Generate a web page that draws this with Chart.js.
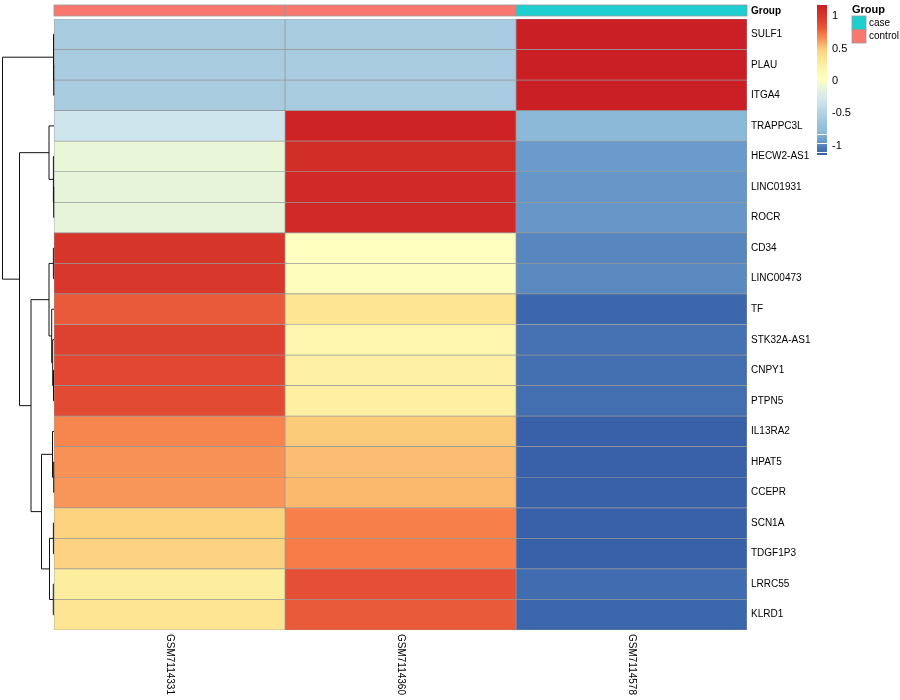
<!DOCTYPE html>
<html>
<head>
<meta charset="utf-8">
<script src="https://cdn.jsdelivr.net/npm/chart.js@4.4.0/dist/chart.umd.min.js"></script>
<style>
  body { margin: 0; background: #fff; }
  #wrap { width: 900px; height: 700px; }
</style>
</head>
<body>
<div id="wrap"><canvas id="heatmap" width="900" height="700"></canvas></div>
<script>
const genes = ['SULF1', 'PLAU', 'ITGA4', 'TRAPPC3L', 'HECW2-AS1', 'LINC01931', 'ROCR',
  'CD34', 'LINC00473', 'TF', 'STK32A-AS1', 'CNPY1', 'PTPN5', 'IL13RA2', 'HPAT5',
  'CCEPR', 'SCN1A', 'TDGF1P3', 'LRRC55', 'KLRD1'];
const samples = ['GSM7114331', 'GSM7114360', 'GSM7114578'];
const groups = ['control', 'control', 'case'];

// row z-scores, one array per sample
const gsm7114331 = [-0.58, -0.58, -0.58, -0.32, -0.11, -0.13, -0.13, 1.00, 0.98, 0.80,
  0.92, 0.89, 0.87, 0.67, 0.63, 0.62, 0.46, 0.45, 0.25, 0.32];
const gsm7114360 = [-0.58, -0.58, -0.58, 1.12, 1.05, 1.08, 1.08, 0.00, 0.03, 0.32,
  0.15, 0.20, 0.22, 0.48, 0.52, 0.53, 0.69, 0.70, 0.85, 0.80];
const gsm7114578 = [1.15, 1.15, 1.15, -0.80, -0.94, -0.95, -0.95, -1.00, -0.99, -1.12,
  -1.07, -1.09, -1.09, -1.15, -1.15, -1.15, -1.15, -1.15, -1.10, -1.12];
const zValues = [gsm7114331, gsm7114360, gsm7114578];

// row clustering: [left, right, height]; negative = leaf -(row+1), positive = earlier merge (1-based)
const rowMerges = [
  [-2, -3, 0.3], [-1, 1, 0.5],
  [-6, -7, 0.3], [-5, 3, 0.6], [-4, 4, 5],
  [-8, -9, 0.6], [-12, -13, 0.5], [-11, 7, 1.3], [-10, 8, 2.3], [6, 9, 5],
  [-15, -16, 0.3], [-14, 11, 1.5], [-17, -18, 0.6], [-19, -20, 0.7], [13, 14, 4.5], [12, 15, 12.5],
  [10, 16, 23], [5, 17, 34.5], [2, 18, 51.5]
];

const legendTicks = [1, 0.5, 0, -0.5, -1];
const groupColors = { case: '#1FCFD0', control: '#F8776F' };

const colorStops = [
  [-1.155, '#3760A8'], [-1.05, '#4A76B5'], [-0.97, '#6090C4'], [-0.94, '#6B9BCA'],
  [-0.8, '#8DB9D9'], [-0.577, '#A8CBE0'], [-0.32, '#CFE5EE'], [-0.11, '#EAF6D8'],
  [0, '#FFFFBF'], [0.15, '#FEF6AE'], [0.3, '#FDE896'], [0.46, '#FCD27F'],
  [0.52, '#FBBD71'], [0.63, '#F89155'], [0.7, '#F77C48'], [0.8, '#E85A3A'],
  [0.9, '#DF4430'], [1.0, '#D6352A'], [1.155, '#CA1E24']
];

const hexRgb = h => [1, 3, 5].map(i => parseInt(h.slice(i, i + 2), 16));

const colorFor = v => {
  if (v <= colorStops[0][0]) return colorStops[0][1];
  for (let i = 1; i < colorStops.length; i++) {
    const [v1, c1] = colorStops[i];
    if (v <= v1) {
      const [v0, c0] = colorStops[i - 1];
      const t = (v - v0) / (v1 - v0);
      const a = hexRgb(c0), b = hexRgb(c1);
      const rgb = a.map((x, k) => Math.round(x + (b[k] - x) * t));
      return `rgb(${rgb[0]},${rgb[1]},${rgb[2]})`;
    }
  }
  return colorStops[colorStops.length - 1][1];
};

const FONT = '"Liberation Sans", Arial, sans-serif';

const extras = {
  id: 'extras',
  afterDraw(chart) {
    const { ctx, chartArea } = chart;
    const xs = chart.scales.x, ys = chart.scales.y;
    ctx.save();

    // group annotation bar
    samples.forEach((s, c) => {
      const x0 = xs.getPixelForValue(c), x1 = xs.getPixelForValue(c + 1);
      ctx.fillStyle = groupColors[groups[c]];
      ctx.fillRect(x0, 5, x1 - x0, 11);
      ctx.strokeStyle = '#999';
      ctx.lineWidth = 0.8;
      ctx.strokeRect(x0, 5, x1 - x0, 11);
    });
    ctx.fillStyle = '#000';
    ctx.font = 'bold 10px ' + FONT;
    ctx.textBaseline = 'middle';
    ctx.textAlign = 'left';
    ctx.fillText('Group', chartArea.right + 4, 11);

    // column labels
    ctx.font = '10px ' + FONT;
    samples.forEach((s, c) => {
      ctx.save();
      ctx.translate(xs.getPixelForValue(c + 0.5), chartArea.bottom + 4);
      ctx.rotate(Math.PI / 2);
      ctx.textAlign = 'left';
      ctx.textBaseline = 'middle';
      ctx.fillText(s, 0, 0);
      ctx.restore();
    });

    // row dendrogram
    const maxH = Math.max(...rowMerges.map(m => m[2]));
    const hx = h => chartArea.left - h / maxH * (chartArea.left - 2.5);
    const nodes = [];
    const pos = id => id < 0
      ? { x: chartArea.left, y: ys.getPixelForValue(-id - 1) }
      : nodes[id - 1];
    ctx.strokeStyle = '#111';
    ctx.lineWidth = 1;
    rowMerges.forEach(([a, b, h]) => {
      const pa = pos(a), pb = pos(b);
      const mx = hx(h);
      ctx.beginPath();
      ctx.moveTo(pa.x, pa.y); ctx.lineTo(mx, pa.y);
      ctx.lineTo(mx, pb.y); ctx.lineTo(pb.x, pb.y);
      ctx.stroke();
      nodes.push({ x: mx, y: (pa.y + pb.y) / 2 });
    });

    // colour key
    const barX = 817, barW = 10, barTop = 5, barBot = 155;
    const vTop = 1.155, vBot = -1.155;
    const vy = v => barTop + (vTop - v) / (vTop - vBot) * (barBot - barTop);
    for (let py = barTop; py < barBot; py++) {
      const v = vTop - (py + 0.5 - barTop) / (barBot - barTop) * (vTop - vBot);
      ctx.fillStyle = colorFor(v);
      ctx.fillRect(barX, py, barW, 1);
    }
    ctx.fillStyle = '#fff';
    ctx.fillRect(barX, 134, barW, 1);
    ctx.fillRect(barX, 143, barW, 1);
    ctx.fillRect(barX, 152, barW, 1);
    ctx.fillStyle = '#000';
    ctx.font = '11px ' + FONT;
    ctx.textAlign = 'left';
    ctx.textBaseline = 'middle';
    legendTicks.forEach(t => ctx.fillText(String(t), barX + 15, vy(t) + 1));

    // group legend
    ctx.font = 'bold 11px ' + FONT;
    ctx.fillText('Group', 852, 10);
    ctx.font = '10px ' + FONT;
    ['case', 'control'].forEach((g, i) => {
      const by = 16 + i * 13.5;
      ctx.fillStyle = groupColors[g];
      ctx.fillRect(852, by, 14, 13.5);
      ctx.strokeStyle = '#999';
      ctx.lineWidth = 0.8;
      ctx.strokeRect(852, by, 14, 13.5);
      ctx.fillStyle = '#000';
      ctx.fillText(g, 869, by + 7);
    });

    ctx.restore();
  }
};

new Chart(document.getElementById('heatmap'), {
  type: 'bar',
  data: {
    labels: genes,
    datasets: samples.map((s, c) => ({
      label: s,
      data: genes.map(() => 1),
      backgroundColor: zValues[c].map(colorFor),
      borderColor: '#999999',
      borderWidth: 0.7,
      borderSkipped: false,
      barPercentage: 1,
      categoryPercentage: 1
    }))
  },
  options: {
    indexAxis: 'y',
    responsive: false,
    animation: false,
    layout: { padding: { left: 54, top: 19, bottom: 70, right: 0 } },
    scales: {
      x: { stacked: true, min: 0, max: 3, display: false },
      y: {
        stacked: true,
        position: 'right',
        grid: { display: false, drawTicks: false },
        border: { display: false },
        ticks: { color: '#000', padding: 4, font: { family: FONT, size: 10 } },
        afterFit: scale => { scale.width = 153; }
      }
    },
    plugins: {
      legend: { display: false },
      tooltip: { enabled: false }
    }
  },
  plugins: [extras]
});
</script>
</body>
</html>
